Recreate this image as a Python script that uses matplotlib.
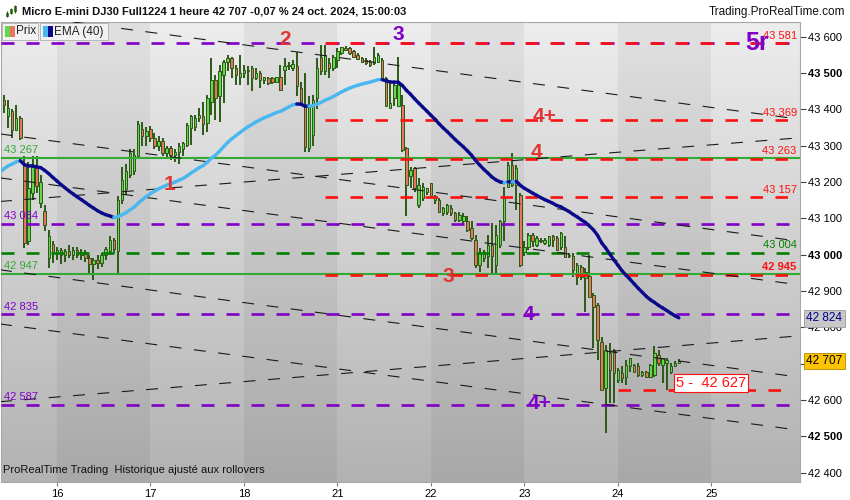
import matplotlib
matplotlib.use("Agg")
import matplotlib.pyplot as plt
import matplotlib.transforms as mtransforms
from matplotlib.collections import LineCollection
from matplotlib.colors import LinearSegmentedColormap
from matplotlib.patches import Rectangle
import numpy as np
import pandas as pd

# hourly candles, Micro E-mini DJ30, 15 -> 24 oct
opens = [43426, 43380, 43395, 43343, 43375, 43250, 43036, 43170, 43240, 43141, 43119, 42990,
         43030, 43005, 43012, 43000, 43010, 42998, 43012, 43000, 43008, 42990, 42975, 42985,
         42978, 42998, 43010, 43040, 43010, 43150, 43180, 43220, 43230, 43270, 43345, 43325,
         43345, 43322, 43300, 43312, 43280, 43292, 43275, 43282, 43290, 43302, 43348, 43352,
         43375, 43380, 43362, 43421, 43481, 43435, 43494, 43531, 43540, 43513, 43490, 43500,
         43508, 43513, 43485, 43499, 43481, 43485, 43485, 43476, 43490, 43508, 43518, 43513,
         43518, 43458, 43407, 43293, 43330, 43430, 43545, 43504, 43527, 43513, 43536, 43554,
         43568, 43568, 43559, 43550, 43540, 43536, 43531, 43527, 43531, 43536, 43485, 43403,
         43430, 43408, 43412, 43293, 43215, 43238, 43137, 43155, 43173, 43196, 43151, 43151,
         43114, 43118, 43128, 43114, 43096, 43091, 43091, 43072, 43040, 42972, 42990, 42995,
         43027, 42972, 43027, 43091, 43187, 43247, 43192, 43164, 43008, 43022, 43054, 43027,
         43040, 43031, 43027, 43051, 43045, 43022, 43022, 43000, 42995, 42939, 42967, 42935,
         42940, 42889, 42861, 42760, 42632, 42728, 42738, 42655, 42673, 42664, 42692, 42696,
         42692, 42669, 42678, 42664, 42669, 42724, 42696, 42701, 42678, 42692, 42701]
highs = [43440, 43426, 43400, 43412, 43380, 43270, 43256, 43270, 43270, 43220, 43137, 43068,
         43036, 43020, 43018, 43015, 43025, 43020, 43020, 43015, 43012, 43000, 42990, 43000,
         43005, 43020, 43050, 43045, 43160, 43240, 43250, 43290, 43290, 43368, 43365, 43350,
         43355, 43335, 43325, 43320, 43300, 43300, 43290, 43306, 43311, 43362, 43385, 43385,
         43402, 43420, 43440, 43540, 43495, 43522, 43536, 43550, 43545, 43522, 43550, 43522,
         43518, 43518, 43513, 43504, 43490, 43490, 43490, 43490, 43522, 43540, 43530, 43535,
         43558, 43475, 43500, 43435, 43440, 43540, 43577, 43577, 43540, 43550, 43568, 43572,
         43575, 43572, 43563, 43555, 43545, 43540, 43535, 43572, 43554, 43540, 43490, 43472,
         43476, 43545, 43440, 43297, 43242, 43242, 43210, 43197, 43183, 43196, 43165, 43155,
         43130, 43140, 43135, 43118, 43118, 43114, 43105, 43091, 43054, 43017, 43013, 43054,
         43086, 43082, 43096, 43187, 43256, 43280, 43247, 43169, 43036, 43059, 43059, 43050,
         43045, 43045, 43050, 43054, 43050, 43063, 43050, 43004, 43004, 42976, 42972, 42962,
         43000, 42894, 42866, 42774, 42751, 42756, 42740, 42687, 42692, 42710, 42715, 42700,
         42701, 42680, 42680, 42700, 42747, 42737, 42715, 42715, 42701, 42706, 42712]
lows = [43389, 43348, 43320, 43339, 43316, 43018, 43027, 43150, 43170, 43128, 43064, 42963,
        42976, 42985, 42975, 42980, 42990, 42985, 42990, 42985, 42980, 42950, 42930, 42960,
        42965, 42985, 43000, 43005, 42945, 43140, 43165, 43210, 43220, 43265, 43300, 43300,
        43310, 43290, 43285, 43270, 43265, 43260, 43255, 43250, 43270, 43297, 43302, 43340,
        43365, 43330, 43338, 43385, 43370, 43365, 43417, 43504, 43485, 43467, 43467, 43485,
        43467, 43449, 43481, 43458, 43470, 43467, 43470, 43472, 43449, 43467, 43508, 43505,
        43435, 43412, 43283, 43283, 43300, 43400, 43495, 43495, 43485, 43505, 43513, 43549,
        43560, 43550, 43540, 43535, 43528, 43522, 43517, 43522, 43527, 43481, 43408, 43403,
        43408, 43408, 43283, 43105, 43183, 43173, 43128, 43146, 43165, 43155, 43140, 43114,
        43105, 43110, 43105, 43090, 43090, 43085, 43063, 43040, 42962, 42953, 42980, 42962,
        42944, 42950, 43017, 43036, 43183, 43187, 43123, 42967, 42995, 43013, 43022, 43020,
        43031, 43027, 43020, 43022, 43010, 43013, 42990, 42990, 42939, 42917, 42930, 42843,
        42884, 42742, 42710, 42627, 42508, 42591, 42591, 42646, 42646, 42640, 42678, 42678,
        42664, 42664, 42660, 42660, 42664, 42692, 42646, 42627, 42670, 42690, 42698]
closes = [43412, 43403, 43343, 43375, 43320, 43031, 43183, 43240, 43190, 43201, 43082, 43050,
          43008, 43012, 43000, 43010, 42998, 43012, 43000, 43008, 42990, 42975, 42985, 42978,
          42998, 43015, 43040, 43015, 43150, 43206, 43230, 43280, 43275, 43360, 43325, 43340,
          43322, 43300, 43312, 43280, 43292, 43275, 43282, 43300, 43306, 43357, 43380, 43375,
          43385, 43360, 43430, 43481, 43430, 43504, 43531, 43540, 43513, 43495, 43499, 43508,
          43505, 43485, 43499, 43481, 43490, 43472, 43476, 43490, 43454, 43518, 43522, 43524,
          43463, 43412, 43297, 43407, 43425, 43513, 43504, 43550, 43513, 43545, 43559, 43572,
          43563, 43554, 43545, 43539, 43531, 43527, 43522, 43545, 43549, 43485, 43408, 43417,
          43467, 43467, 43288, 43192, 43233, 43183, 43192, 43187, 43183, 43160, 43160, 43118,
          43128, 43137, 43114, 43096, 43109, 43105, 43068, 43045, 42972, 43004, 43008, 43027,
          42995, 43054, 43091, 43155, 43247, 43192, 43238, 42972, 43022, 43054, 43036, 43045,
          43036, 43040, 43050, 43040, 43013, 43059, 42994, 42995, 42958, 42972, 42939, 42953,
          42884, 42857, 42765, 42627, 42738, 42683, 42673, 42683, 42660, 42696, 42715, 42678,
          42669, 42678, 42664, 42696, 42728, 42701, 42715, 42710, 42692, 42701, 42707]
ema_seed = 43227
last_price = 42707
ema_last_label = 42824

day_ticks = [14, 37, 60, 83, 106, 129, 152, 175]
day_labels = ["16", "17", "18", "21", "22", "23", "24", "25"]

purple_levels = [43581, 43084, 42835, 42587]
green_solid_levels = [43267, 42947]
green_dashed_levels = [43004]
red_levels = [43581, 43369, 43263, 43157, 42945]
target_level = 42627

# trend lines: price at x=0 and at x=196.3
trend_start = [43667, 43332, 43211, 42958, 42809, 43146, 42595]
trend_end = [43373, 43037, 42917, 42663, 42517, 43321, 42776]

plt.rcParams["lines.scale_dashes"] = False
plt.rcParams["font.family"] = ["Liberation Sans", "DejaVu Sans"]

PURPLE = "#8000c8"
RED = "#ff1010"
GREEN = "#33aa33"
DKGREEN = "#008000"
OUTLINE = "#2b5a16"

fig = plt.figure(figsize=(8.5, 5), dpi=100)
fig.patch.set_facecolor("white")
ax = fig.add_axes([1 / 850, 18 / 500, 799 / 850, 460 / 500])
xmin, xmax = 0.25, 196.8
ymin, ymax = 42374, 43640
ax.set_xlim(xmin, xmax)
ax.set_ylim(ymin, ymax)

# background gradient + alternating day bands
bg = LinearSegmentedColormap.from_list("bg", ["#b2b2b2", "#ededed"])
ax.imshow(np.linspace(0, 1, 256).reshape(-1, 1), cmap=bg, aspect="auto",
          extent=[xmin, xmax, ymin, ymax], origin="lower", zorder=0)
for k in range(0, len(day_ticks), 2):
    ax.axvspan(day_ticks[k], day_ticks[k] + 23, color="black", alpha=0.05, lw=0, zorder=0.5)

# candles
xs = np.arange(1, len(closes) + 1)
o = np.array(opens, float)
c = np.array(closes, float)
ax.vlines(xs, lows, highs, color=OUTLINE, lw=1.4, zorder=2)
bodies = np.where(np.abs(c - o) < 3, 3, c - o)
cols = np.where(c >= o, "#62d84a", "#e8765e")
ax.bar(xs, bodies, bottom=o, width=0.6, color=cols, edgecolor=OUTLINE, lw=0.7, zorder=3)

# horizontal levels
for lv in purple_levels:
    ax.plot([xmin, 196], [lv, lv], color=PURPLE, lw=1.9, ls=(0, (9.4, 8.6)), zorder=4)
for lv in green_solid_levels:
    ax.plot([xmin, xmax], [lv, lv], color=GREEN, lw=1.5, zorder=4)
for lv in green_dashed_levels:
    ax.plot([xmin, 196], [lv, lv], color=DKGREEN, lw=1.9, ls=(0, (9.4, 8.6)), zorder=4)
for lv in red_levels:
    ax.plot([80, 196], [lv, lv], color=RED, lw=1.9, ls=(0, (9.0, 9.0)), zorder=4.2)
ax.plot([152, 194], [target_level, target_level], color=RED, lw=1.9, ls=(0, (9.0, 9.0)), zorder=4.2)

# trend lines
for p0, p1 in zip(trend_start, trend_end):
    ax.plot([0, 196.3], [p0, p1], color="#1a1a1a", lw=0.8, ls=(0, (8.6, 9.0)), zorder=4.5)

# EMA 40, light blue when rising, navy when falling
ema = pd.Series([ema_seed] + closes).ewm(span=40, adjust=False).mean().to_numpy()
ema_x = np.arange(0, len(ema))
pts = np.column_stack([ema_x, ema])
segs = np.stack([pts[:-1], pts[1:]], axis=1)
seg_cols = ["#4ab8f0" if b > a else "#0a0a8a" for a, b in zip(ema[:-1], ema[1:])]
ax.add_collection(LineCollection(segs, colors=seg_cols, lw=2.4, capstyle="round", zorder=5))

# level labels
def fmt(v):
    return f"{v:,.0f}".replace(",", " ")

for lv, col in [(43267, GREEN), (43084, PURPLE), (42947, GREEN), (42835, PURPLE), (42587, PURPLE)]:
    ax.annotate(fmt(lv), (1.0, lv), xytext=(0, 2), textcoords="offset points",
                ha="left", va="bottom", color=col, fontsize=8, zorder=6)
for lv in [43581, 43369, 43263, 43157]:
    ax.annotate(fmt(lv), (196, lv), xytext=(0, 2), textcoords="offset points",
                ha="right", va="bottom", color=RED, fontsize=8, zorder=6)
ax.annotate(fmt(43004), (196, 43004), xytext=(0, 2), textcoords="offset points",
            ha="right", va="bottom", color=DKGREEN, fontsize=8, zorder=6)
ax.annotate(fmt(42945), (196, 42945), xytext=(0, 2), textcoords="offset points",
            ha="right", va="bottom", color=RED, fontsize=8, fontweight="bold", zorder=6)

# wave labels
waves = [("1", 41.8, 43192, "#e03535", 15), ("2", 70.1, 43591, "#e03535", 15),
         ("3", 97.9, 43605, PURPLE, 15), ("5r", 186.2, 43583, PURPLE, 18),
         ("4+", 134.0, 43379, "#e03535", 15), ("4", 132.0, 43280, "#e03535", 15),
         ("3", 110.2, 42939, "#e03535", 15), ("4", 129.9, 42834, PURPLE, 15),
         ("4+", 132.8, 42589, PURPLE, 15)]
for t, x, y, col, fs in waves:
    ax.text(x, y, t, color=col, fontsize=fs, fontweight="bold", ha="center", va="center", zorder=7)

ax.text(166.3, 42646, "5 -  42 627", color=RED, fontsize=10.5, ha="left", va="center", zorder=7,
        bbox=dict(boxstyle="square,pad=0.15", fc="white", ec=RED, lw=0.8))

ax.text(0.8, 42392, "ProRealTime Trading  Historique ajusté aux rollovers", fontsize=8,
        color="#111111", ha="left", va="bottom", zorder=7)

# axes (42 700 sits under the last-price tag)
ax.set_xticks(day_ticks)
ax.set_xticklabels(day_labels)
yt = list(range(42400, 43601, 100))
ax.yaxis.tick_right()
ax.set_yticks(yt)
ax.set_yticklabels(["" if v == 42700 else fmt(v) for v in yt])
for lab, v in zip(ax.get_yticklabels(), yt):
    if v % 500 == 0:
        lab.set_fontweight("bold")
ax.tick_params(axis="x", length=3, pad=2, labelsize=8, color="#808080")
ax.tick_params(axis="y", length=4, pad=2, labelsize=8, color="#404040")
for sp in ax.spines.values():
    sp.set_color("#a8a8a8")
    sp.set_linewidth(0.8)

trans = mtransforms.blended_transform_factory(ax.transAxes, ax.transData)
ax.text(1.008, ema_last_label, fmt(ema_last_label), transform=trans, color="#000090", fontsize=8.5,
        ha="left", va="center", zorder=8, clip_on=False,
        bbox=dict(boxstyle="square,pad=0.2", fc="#c8c8c8", ec="#9a9a9a", lw=0.6))
ax.text(1.008, last_price, fmt(last_price), transform=trans, color="black", fontsize=8.5,
        ha="left", va="center", zorder=8, clip_on=False,
        bbox=dict(boxstyle="square,pad=0.2", fc="#ffc400", ec="#b08a00", lw=0.6))

# header
fig.text(22 / 850, 1 - 11 / 500,
         "Micro E-mini DJ30 Full1224 1 heure 42 707 -0,07 % 24 oct. 2024, 15:00:03",
         fontsize=8, fontweight="bold", color="#111111", ha="left", va="center")
fig.text(845 / 850, 1 - 12 / 500, "Trading.ProRealTime.com", fontsize=8.5,
         color="#111111", ha="right", va="center")
icon = fig.add_axes([4 / 850, 1 - 19 / 500, 14 / 850, 16 / 500])
icon.set_axis_off()
icon.vlines([1, 2, 3], [1, 3, 4], [5, 7, 9], color=OUTLINE, lw=0.8)
icon.bar([1, 2, 3], [2, 2, 3], bottom=[2, 4, 5], width=0.6, color="#62d84a", edgecolor=OUTLINE, lw=0.5)
icon.set_xlim(0.3, 3.7)
icon.set_ylim(0, 10)

# legend boxes
def fig_rect(x0, y0, x1, y1, **kw):
    fig.patches.append(Rectangle((x0 / 850, 1 - y1 / 500), (x1 - x0) / 850, (y1 - y0) / 500,
                                 transform=fig.transFigure, **kw))

fig_rect(2, 23, 38, 40, fc="#f2f2f2", ec="#b0b0b0", lw=0.6, zorder=10)
fig_rect(5, 26, 10, 37, fc="#62d84a", ec="none", zorder=11)
fig_rect(10, 26, 15, 37, fc="#e8765e", ec="none", zorder=11)
fig_rect(40, 23, 108, 40, fc="#f2f2f2", ec="#b0b0b0", lw=0.6, zorder=10)
fig_rect(43, 26, 48, 37, fc="#4ab8f0", ec="none", zorder=11)
fig_rect(48, 26, 53, 37, fc="#0a0a8a", ec="none", zorder=11)
fig.text(16 / 850, 1 - 31.5 / 500, "Prix", fontsize=8.5, color="#222222", ha="left", va="center", zorder=12)
fig.text(54 / 850, 1 - 31.5 / 500, "EMA (40)", fontsize=8.5, color="#222222", ha="left", va="center", zorder=12)

fig.savefig("out.png", dpi=100)
